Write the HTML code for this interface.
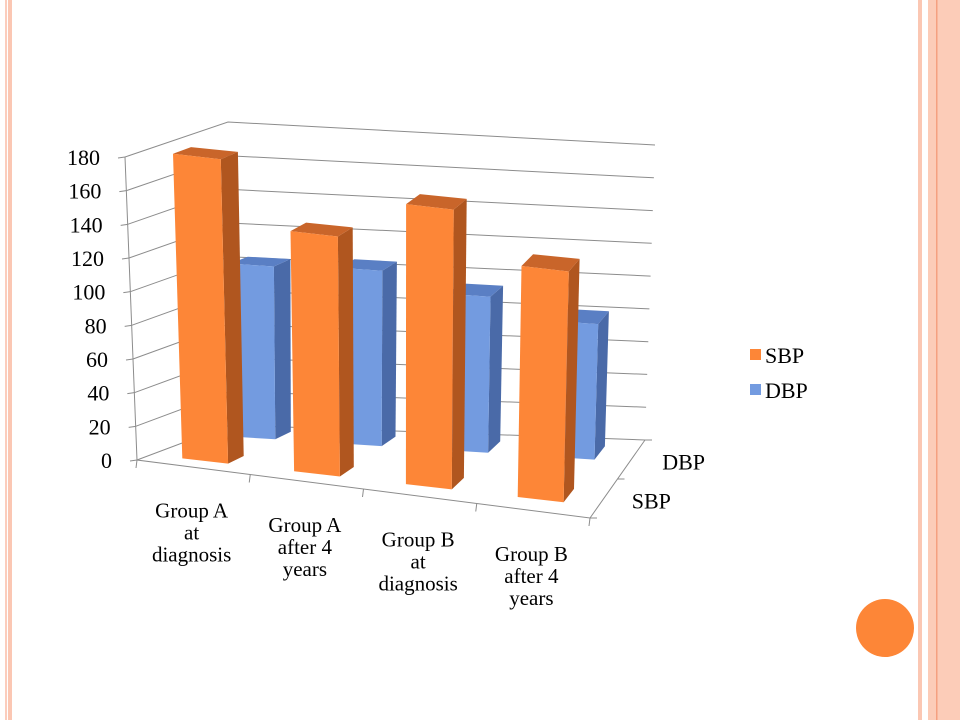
<!DOCTYPE html>
<html><head><meta charset="utf-8"><style>
html,body{margin:0;padding:0;background:#fff;}
svg{display:block;font-family:"Liberation Serif",serif;}
</style></head><body>
<svg id="chart" width="960" height="720" viewBox="0 0 960 720">
  <rect x="5" y="0" width="2" height="720" fill="#fbcdbd"/>
  <rect x="8" y="0" width="4" height="720" fill="#fbc7b3"/>
  <rect x="918" y="0" width="4" height="720" fill="#fbc7b3"/>
  <rect x="928" y="0" width="32" height="720" fill="#fcccb8"/>
  <rect x="936" y="0" width="1.5" height="720" fill="#f5a080"/>
  <circle cx="885" cy="628" r="29" fill="#fd8637"/>
  <g id="plot"></g>
  <g id="legend">
    <rect x="750" y="349" width="11" height="11" fill="#fd8637"/>
    <text x="765" y="363" font-size="22" fill="#000">SBP</text>
    <rect x="750" y="384" width="11" height="11" fill="#739be0"/>
    <text x="765" y="398" font-size="22" fill="#000">DBP</text>
  </g>
</svg>
<script>
const categories = [["Group A","at","diagnosis"],["Group A","after 4","years"],["Group B","at","diagnosis"],["Group B","after 4","years"]];
const seriesNames = ["SBP","DBP"];
const sbpValues = [181, 143, 167, 138];
const dbpValues = [103, 105, 94, 82];
const yTicks = [0,20,40,60,80,100,120,140,160,180];

const NS = "http://www.w3.org/2000/svg";
const plot = document.getElementById('plot');
const YMAX = 180;
const C = {FLB:[137,460],FLT:[125,157],FRB:[590,518],FRT:[598,216],
           BLB:[230,425],BLT:[228,122],BRB:[645,440],BRT:[655,145]};
function lerp(a,b,t){return [a[0]+(b[0]-a[0])*t,a[1]+(b[1]-a[1])*t];}
function P(u,d,v){
  const s=u/4, h=v/YMAX;
  const fb=lerp(C.FLB,C.FRB,s), ft=lerp(C.FLT,C.FRT,s);
  const bb=lerp(C.BLB,C.BRB,s), bt=lerp(C.BLT,C.BRT,s);
  const f=lerp(fb,ft,h), b=lerp(bb,bt,h);
  return lerp(f,b,d);
}
function el(tag,attrs,parent){const e=document.createElementNS(NS,tag);for(const k in attrs)e.setAttribute(k,attrs[k]);(parent||plot).appendChild(e);return e;}
function pts(a){return a.map(p=>p[0].toFixed(1)+','+p[1].toFixed(1)).join(' ');}

yTicks.forEach((t,i)=>{
  const l = el('polyline',{points:pts([P(0,0,t),P(0,1,t),P(4,1,t)]),fill:'none',stroke:'#8c8c8c','stroke-width':1});
  
  
  const a=P(0,0,t);
  const tk = el('line',{x1:a[0]-7,y1:a[1]+1,x2:a[0],y2:a[1],stroke:'#8c8c8c'});
  
  
  const lb = el('text',{x:a[0]-25,y:a[1]+8,'font-size':22,'text-anchor':'end',fill:'#000'});
  lb.textContent=t;
  
  
});
const ax = el('polyline',{points:pts([P(0,0,YMAX),P(0,0,0),P(4,0,0),P(4,1,0)]),fill:'none',stroke:'#8c8c8c'});


for(let u=0;u<=4;u++){
  const a=P(u,0,0);
  const t=el('line',{x1:a[0],y1:a[1],x2:a[0]-1,y2:a[1]+8,stroke:'#8c8c8c'});
  
  
}
[0,0.5,1].forEach(d=>{const a=P(4,d,0);
  const t=el('line',{x1:a[0],y1:a[1],x2:a[0]+7,y2:a[1],stroke:'#8c8c8c'});
  
  });
seriesNames.forEach((n,i)=>{const a=P(4,0.25+0.5*i,0);
  const t=el('text',{x:a[0]+28+(i?3:0),y:a[1]+10,'font-size':22,fill:'#000'});
  t.textContent=n;
  
  });
categories.forEach((lines,i)=>{
  const a=P(i+0.5,0,0);
  const t=el('text',{x:a[0]-2,y:a[1]+50,'font-size':21,'text-anchor':'middle',fill:'#000'});
  
  
  lines.forEach((s,j)=>{const ts=el('tspan',{x:a[0]-2,dy:j?22:0},t);ts.textContent=s;});
});
function bar(u0,u1,d0,d1,v,cols,name){
  const g=el('g',{});
  
  
  el('polygon',{points:pts([P(u1,d0,0),P(u1,d1,0),P(u1,d1,v),P(u1,d0,v)]),fill:cols[1]},g);
  el('polygon',{points:pts([P(u0,d0,v),P(u1,d0,v),P(u1,d1,v),P(u0,d1,v)]),fill:cols[2]},g);
  el('polygon',{points:pts([P(u0,d0,0),P(u1,d0,0),P(u1,d0,v),P(u0,d0,v)]),fill:cols[0]},g);
}
const sCols=['#fd8637','#b0561f','#c9652a'];
const dCols=['#739be0','#4a6aa8','#5a7fc4'];
dbpValues.forEach((v,i)=>bar(i+0.27,i+0.67,0.72,0.9,v,dCols,'bar-dbp-'+(i+1)));
sbpValues.forEach((v,i)=>bar(i+0.28,i+0.69,0.15,0.33,v,sCols,'bar-sbp-'+(i+1)));
</script>
</body></html>
